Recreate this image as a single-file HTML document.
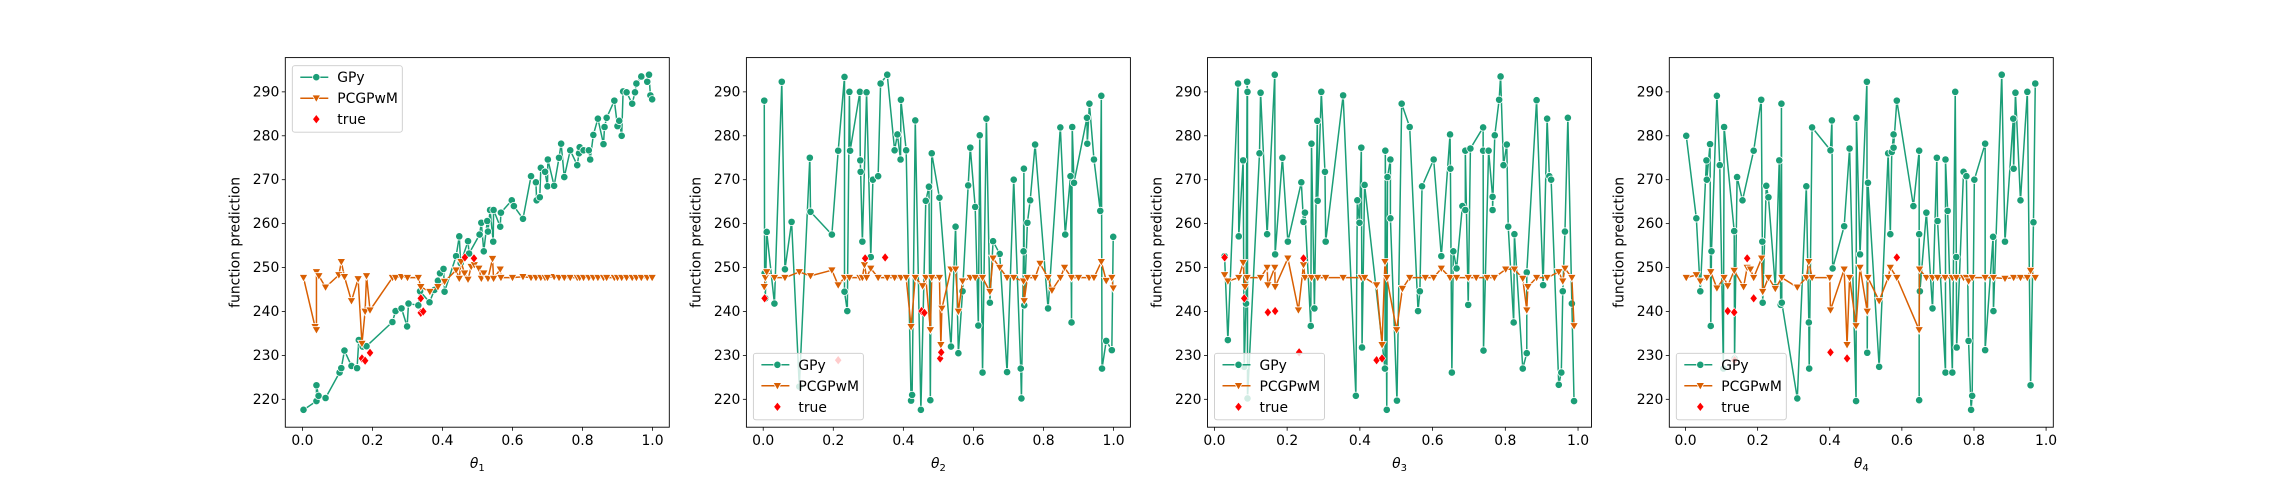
<!DOCTYPE html>
<html><head><meta charset="utf-8"><style>
html,body{margin:0;padding:0;background:#fff;}
svg text{font-family:"DejaVu Sans","Liberation Sans",sans-serif;}
</style></head><body>
<svg id="fig" width="2281" height="480" viewBox="0 0 2281 480" xmlns="http://www.w3.org/2000/svg"></svg>
<script>
const yTicks = [220, 230, 240, 250, 260, 270, 280, 290];
const xTicks = [0, 0.2, 0.4, 0.6, 0.8, 1.0];
const xTickLabels = ["0.0", "0.2", "0.4", "0.6", "0.8", "1.0"];
const seriesNames = ["GPy", "PCGPwM", "true"];

const gpy1 = [[.003,217.6],[.04,219.6],[.04,223.2],[.046,220.8],[.066,220.3],[.106,226.1],[.111,227.1],[.12,231.1],[.14,227.6],[.156,227.1],[.161,233.5],[.172,232],[.183,232.1],[.257,237.6],[.266,240.1],[.283,240.7],[.299,236.6],[.303,241.8],[.331,241.4],[.336,244.6],[.363,242.1],[.377,244.9],[.387,247],[.393,248.7],[.403,249.7],[.406,244.5],[.439,252.6],[.448,257.1],[.452,251],[.473,256],[.476,253.2],[.506,257.5],[.511,260.2],[.518,253.7],[.528,260.6],[.53,258.2],[.536,263.1],[.545,255.9],[.546,263.1],[.565,259.3],[.567,262.5],[.598,265.3],[.604,264],[.63,261.1],[.653,270.8],[.667,269.4],[.669,265.3],[.678,266],[.681,272.7],[.693,271.8],[.7,268.5],[.701,274.6],[.719,268.6],[.733,275],[.739,278.2],[.748,270.6],[.765,276.7],[.785,273.3],[.79,276],[.792,277.4],[.803,276.7],[.818,276.7],[.822,274.6],[.831,280.2],[.844,283.9],[.86,278.1],[.863,282],[.869,284.1],[.891,288],[.9,282.2],[.905,283.4],[.912,280],[.916,290.1],[.926,289.9],[.942,287.3],[.95,289.9],[.954,291.9],[.968,293.5],[.985,292.3],[.99,293.9],[.994,289.2],[.999,288.3]];
const pcg1 = [[.003,247.7],[.036,236.5],[.04,235.8],[.04,249],[.047,248.1],[.066,245.5],[.104,248.3],[.111,251.3],[.12,247.9],[.14,242.4],[.159,247.4],[.17,232.7],[.179,240],[.183,248.1],[.193,240.3],[.257,247.7],[.266,247.7],[.283,247.9],[.3,247.7],[.331,247.7],[.338,245.6],[.364,244.5],[.387,245.6],[.406,246.8],[.439,249.4],[.448,247.5],[.453,251.3],[.463,248.7],[.473,247.3],[.482,250.2],[.491,250.6],[.504,249.8],[.511,247.5],[.518,248.7],[.53,247.5],[.543,252],[.546,247.5],[.565,249.6],[.567,247.7],[.6,247.7],[.63,247.9],[.653,247.7],[.667,247.7],[.681,247.7],[.693,247.7],[.7,247.7],[.719,247.9],[.733,247.7],[.748,247.7],[.765,247.7],[.785,247.7],[.792,247.7],[.803,247.7],[.818,247.7],[.831,247.7],[.844,247.7],[.86,247.7],[.869,247.7],[.891,247.7],[.9,247.7],[.912,247.7],[.926,247.7],[.942,247.7],[.954,247.7],[.968,247.7],[.985,247.7],[.999,247.7]];
const true1 = [[.17,229.3],[.179,228.8],[.193,230.6],[.338,243],[.338,239.7],[.345,240],[.464,252.3],[.49,252.1]];

const gpy2 = [[.003,288],[.004,248.7],[.006,243],[.01,258.1],[.032,241.8],[.053,292.3],[.062,249.6],[.081,260.4],[.103,222.9],[.133,275],[.135,262.7],[.196,257.5],[.214,276.6],[.232,293.4],[.232,244.5],[.24,240.1],[.246,290],[.248,276.6],[.276,290],[.277,274.4],[.278,271.8],[.283,255.9],[.295,289.9],[.307,252.4],[.313,270],[.328,270.8],[.335,291.9],[.354,293.9],[.375,276.7],[.383,280.3],[.392,274.6],[.393,288.2],[.408,276.7],[.422,219.7],[.425,221],[.434,283.5],[.45,217.6],[.464,265.2],[.473,268.4],[.477,219.8],[.481,276],[.503,265.9],[.536,232],[.549,259.3],[.557,230.5],[.569,244.6],[.585,268.7],[.591,277.3],[.605,263.8],[.614,236.8],[.618,280.1],[.626,226.1],[.637,283.9],[.647,242],[.656,256],[.675,253.1],[.696,226.2],[.715,270],[.735,227],[.737,220.2],[.743,253.7],[.744,272.5],[.745,241.4],[.754,260.2],[.762,265.3],[.776,278],[.813,240.7],[.848,281.9],[.862,257.5],[.877,270.8],[.88,237.5],[.882,282],[.887,269.3],[.924,284.1],[.925,278.2],[.931,287.3],[.944,274.6],[.962,262.9],[.965,289.1],[.967,227],[.979,233.3],[.995,231.2],[.999,257]];
const pcg2 = [[.003,245.6],[.006,247.7],[.01,249],[.032,247.7],[.062,247.7],[.103,249],[.135,248.1],[.196,249.4],[.214,246],[.232,247.7],[.246,247.7],[.276,247.7],[.283,247.7],[.289,250.6],[.295,247.7],[.307,249.8],[.328,247.7],[.354,247.7],[.375,247.7],[.393,247.7],[.408,247.7],[.422,236.5],[.434,247.7],[.455,245.8],[.464,247.7],[.477,235.8],[.481,247.7],[.503,247.7],[.507,232.4],[.51,240.7],[.536,249.6],[.549,249.6],[.557,240],[.569,246.9],[.591,247.7],[.605,247.7],[.626,247.7],[.647,244.5],[.656,252.1],[.675,250],[.696,247.7],[.715,247.7],[.743,246.9],[.745,242.4],[.754,247.7],[.776,247.7],[.79,250.9],[.813,247.7],[.824,244.8],[.848,247.7],[.86,250],[.88,247.7],[.9,247.7],[.93,247.7],[.944,247.7],[.965,251.3],[.979,247],[.995,247.7],[.999,245.3]];
const true2 = [[.004,243],[.214,228.9],[.291,252.1],[.348,252.3],[.452,240.1],[.46,239.7],[.505,229.3],[.508,230.7]];

const gpy3 = [[.028,252.6],[.037,233.5],[.065,291.9],[.067,257.1],[.079,274.4],[.082,227.4],[.087,241.8],[.09,292.3],[.091,290],[.091,220.2],[.124,276],[.127,289.8],[.145,257.6],[.166,293.9],[.167,253],[.187,275],[.202,255.9],[.239,269.4],[.245,260.4],[.249,262.5],[.265,236.7],[.267,278.2],[.275,240.7],[.283,283.4],[.284,265.2],[.294,290],[.304,271.8],[.306,255.9],[.354,289.2],[.389,220.8],[.393,265.3],[.399,260.2],[.404,277.3],[.406,231.8],[.413,268.8],[.469,227],[.47,276.6],[.474,217.6],[.476,270.6],[.484,274.6],[.484,261.2],[.502,219.7],[.515,287.3],[.537,282],[.56,240.1],[.565,244.6],[.571,268.5],[.603,274.6],[.624,252.6],[.648,280.3],[.649,272.5],[.653,226.1],[.657,253.7],[.666,249.8],[.682,264],[.69,263.1],[.69,276.6],[.698,241.5],[.704,277.1],[.739,281.9],[.74,231.1],[.739,276.6],[.754,276.6],[.765,266.1],[.765,263.1],[.771,280.1],[.783,288.2],[.787,293.5],[.795,273.3],[.804,278],[.808,259.3],[.823,237.5],[.825,257.6],[.848,227],[.859,230.5],[.859,248.9],[.886,288.1],[.904,246],[.915,283.9],[.921,270.8],[.926,270],[.947,223.3],[.954,226.1],[.958,244.6],[.964,258.2],[.972,284.1],[.983,241.8],[.989,219.6]];
const pcg3 = [[.028,248.3],[.037,246.9],[.067,247.7],[.079,251.1],[.084,245.6],[.09,247.7],[.127,247.7],[.145,250],[.147,246],[.166,250],[.167,245.6],[.202,252.1],[.231,240.3],[.245,250.6],[.249,247.7],[.267,247.7],[.284,247.7],[.306,247.7],[.354,247.7],[.404,247.7],[.413,247.7],[.446,246],[.461,232.4],[.469,251.3],[.474,247.7],[.501,235.8],[.517,245.2],[.537,247.7],[.58,247.7],[.603,247.7],[.624,249.8],[.648,247.7],[.666,247.7],[.698,247.7],[.72,247.7],[.75,247.7],[.77,247.7],[.801,249.6],[.825,249.6],[.848,247.5],[.859,240.3],[.862,245.6],[.886,247.7],[.915,247.7],[.947,249],[.958,246.9],[.964,249.8],[.983,247.7],[.989,236.7]];
const true3 = [[.028,252.3],[.082,243],[.147,239.8],[.167,240.1],[.233,230.7],[.245,252.1],[.446,228.9],[.461,229.3]];

const gpy4 = [[.002,280],[.03,261.2],[.041,244.6],[.058,274.4],[.059,270],[.068,278.1],[.07,236.7],[.072,253.7],[.087,289.1],[.095,273.3],[.105,227],[.107,282],[.135,258.3],[.136,229.3],[.143,270.6],[.158,265.3],[.189,276.6],[.21,288.2],[.213,255.9],[.214,242],[.224,268.6],[.23,266],[.249,245.6],[.26,274.4],[.264,241.5],[.266,287.3],[.267,242],[.31,220.2],[.335,268.5],[.342,237.5],[.343,227],[.351,281.9],[.402,276.7],[.406,283.5],[.408,249.8],[.44,259.4],[.455,277.1],[.473,219.6],[.474,284.1],[.484,253],[.503,292.3],[.504,230.6],[.506,269.3],[.537,227.4],[.562,276],[.568,257.6],[.572,276.3],[.577,280.3],[.577,277.3],[.586,288],[.632,264],[.648,276.6],[.648,219.8],[.648,257.6],[.65,244.6],[.668,262.5],[.685,240.7],[.697,275],[.699,260.6],[.721,226.1],[.721,274.6],[.727,262.9],[.74,226.1],[.748,290],[.751,252.4],[.752,231.8],[.771,271.8],[.779,270.8],[.785,233.3],[.792,217.6],[.795,220.8],[.801,270],[.831,278.2],[.831,231.2],[.853,257],[.854,240.1],[.877,293.9],[.886,255.9],[.909,283.9],[.91,272.5],[.915,289.8],[.929,265.3],[.948,290],[.957,223.2],[.965,260.3],[.97,291.9]];
const pcg4 = [[.002,247.7],[.03,248.3],[.041,246.9],[.059,247.7],[.07,249],[.087,245.3],[.107,247.7],[.117,245.8],[.135,249.3],[.161,245.6],[.171,250],[.18,249.6],[.189,247.7],[.211,252.1],[.214,244.5],[.23,247.7],[.249,245.2],[.267,247.7],[.31,245.5],[.335,247.7],[.342,251.3],[.351,247.7],[.4,247.7],[.402,240.3],[.44,249.6],[.448,232.4],[.455,247.7],[.473,236.7],[.484,250],[.504,240],[.506,247.7],[.537,242.4],[.562,247.7],[.568,250],[.586,247.7],[.648,235.8],[.649,249.6],[.668,247.7],[.685,247.7],[.699,247.7],[.72,247.7],[.74,247.7],[.751,247.7],[.771,247.7],[.779,247.7],[.785,246.9],[.795,247.7],[.831,247.7],[.854,247.7],[.886,247.5],[.91,247.7],[.929,247.7],[.948,247.7],[.957,249.3],[.97,247.7]];
const true4 = [[.117,240.1],[.135,239.8],[.136,228.9],[.171,252.1],[.189,243],[.402,230.7],[.448,229.3],[.586,252.3]];

const GREEN = "#1b9e77", ORANGE = "#d95f02", RED = "#ff0000";
const NS = "http://www.w3.org/2000/svg";
const svg = document.getElementById("fig");
function mk(tag, attrs, parent) {
  const e = document.createElementNS(NS, tag);
  for (const k in attrs) e.setAttribute(k, attrs[k]);
  (parent || svg).appendChild(e);
  return e;
}
const panels = [
  {left: 285.3, xmin: -0.049, xmax: 1.048, gpy: gpy1, pcg: pcg1, tru: true1, sub: "1", legendTop: true},
  {left: 746.4, xmin: -0.048, xmax: 1.048, gpy: gpy2, pcg: pcg2, tru: true2, sub: "2", legendTop: false},
  {left: 1207.5, xmin: -0.019, xmax: 1.037, gpy: gpy3, pcg: pcg3, tru: true3, sub: "3", legendTop: false},
  {left: 1669.3, xmin: -0.045, xmax: 1.02, gpy: gpy4, pcg: pcg4, tru: true4, sub: "4", legendTop: false}
];
const W = 384, TOP = 57.6, BOT = 427.2, YMIN = 213.65, YMAX = 297.8;

function circle(g, cx, cy) {
  const c = mk("circle", {cx: cx, cy: cy, r: 3.7, fill: GREEN, stroke: "#fff", "stroke-width": 0.8}, g);
  
  
}
function tri(g, cx, cy) {
  const s = 4.3;
  const p = mk("polygon", {points: `${cx-s},${cy-s*0.75} ${cx+s},${cy-s*0.75} ${cx},${cy+s}`, fill: ORANGE, stroke: "#fff", "stroke-width": 0.8}, g);
  
  
}
function diamond(g, cx, cy) {
  const s = 4.6;
  const p = mk("polygon", {points: `${cx},${cy-s} ${cx+s*0.8},${cy} ${cx},${cy+s} ${cx-s*0.8},${cy}`, fill: RED, stroke: "#fff", "stroke-width": 0.6}, g);
  
  
}

panels.forEach((P, i) => {
  const g = mk("g", {});
  
  
  const xs = v => P.left + (v - P.xmin) / (P.xmax - P.xmin) * W;
  const ys = v => BOT - (v - YMIN) / (YMAX - YMIN) * (BOT - TOP);
  const clipId = "clip" + i;
  const cp = mk("clipPath", {id: clipId}, g);
  mk("rect", {x: P.left, y: TOP, width: W, height: BOT - TOP}, cp);
  const plot = mk("g", {"clip-path": `url(#${clipId})`}, g);
  
  

  const gs = P.gpy.slice().sort((a, b) => a[0] - b[0]);
  const ps = P.pcg.slice().sort((a, b) => a[0] - b[0]);
  const l1 = mk("polyline", {points: gs.map(d => xs(d[0]) + "," + ys(d[1])).join(" "), fill: "none", stroke: GREEN, "stroke-width": 1.5, "stroke-linejoin": "round"}, plot);
  
  
  gs.forEach(d => circle(plot, xs(d[0]), ys(d[1])));
  const l2 = mk("polyline", {points: ps.map(d => xs(d[0]) + "," + ys(d[1])).join(" "), fill: "none", stroke: ORANGE, "stroke-width": 1.5, "stroke-linejoin": "round"}, plot);
  
  
  ps.forEach(d => tri(plot, xs(d[0]), ys(d[1])));
  P.tru.forEach(d => diamond(plot, xs(d[0]), ys(d[1])));

  const frame = mk("rect", {x: P.left, y: TOP, width: W, height: BOT - TOP, fill: "none", stroke: "#000", "stroke-width": 0.9}, g);
  
  

  yTicks.forEach(t => {
    const y = ys(t);
    mk("line", {x1: P.left - 3.5, x2: P.left, y1: y, y2: y, stroke: "#000", "stroke-width": 0.8}, g);
    const tx = mk("text", {x: P.left - 6, y: y + 4.5, "text-anchor": "end", "font-size": 13.9, fill: "#000"}, g);
    tx.textContent = t;
    
    
  });
  xTicks.forEach((t, k) => {
    const x = xs(t);
    mk("line", {x1: x, x2: x, y1: BOT, y2: BOT + 3.5, stroke: "#000", "stroke-width": 0.8}, g);
    const tx = mk("text", {x: x, y: BOT + 18, "text-anchor": "middle", "font-size": 13.9, fill: "#000"}, g);
    tx.textContent = xTickLabels[k];
    
    
  });
  const xl = mk("text", {x: P.left + W / 2, y: 468, "text-anchor": "middle", "font-size": 13.9, "font-style": "italic", fill: "#000"}, g);
  xl.innerHTML = 'θ<tspan font-size="10" font-style="normal" dy="3">' + P.sub + '</tspan>';
  
  
  const yl = mk("text", {x: 0, y: 0, "text-anchor": "middle", "font-size": 13.9, fill: "#000", transform: `translate(${P.left - 46},${(TOP + BOT) / 2}) rotate(-90)`}, g);
  yl.textContent = "function prediction";
  
  

  const lx = P.left + 7, ly = P.legendTop ? 65.7 : 353.3;
  const lg = mk("g", {}, g);
  
  
  mk("rect", {x: lx, y: ly, width: 110, height: 66.5, rx: 2.5, fill: "#fff", "fill-opacity": 0.8, stroke: "#ccc", "stroke-width": 0.9}, lg);
  seriesNames.forEach((n, k) => {
    const cy = ly + 11.5 + k * 21;
    const hx = lx + 24;
    if (k === 0) {
      mk("line", {x1: lx + 8, x2: lx + 36, y1: cy, y2: cy, stroke: GREEN, "stroke-width": 1.5}, lg);
      circle(lg, hx, cy);
    } else if (k === 1) {
      mk("line", {x1: lx + 8, x2: lx + 36, y1: cy, y2: cy, stroke: ORANGE, "stroke-width": 1.5}, lg);
      tri(lg, hx, cy);
    } else {
      diamond(lg, hx, cy);
    }
    const t = mk("text", {x: lx + 45, y: cy + 5, "font-size": 13.9, fill: "#000"}, lg);
    t.textContent = n;
    
    
  });
});
</script>
</body></html>
